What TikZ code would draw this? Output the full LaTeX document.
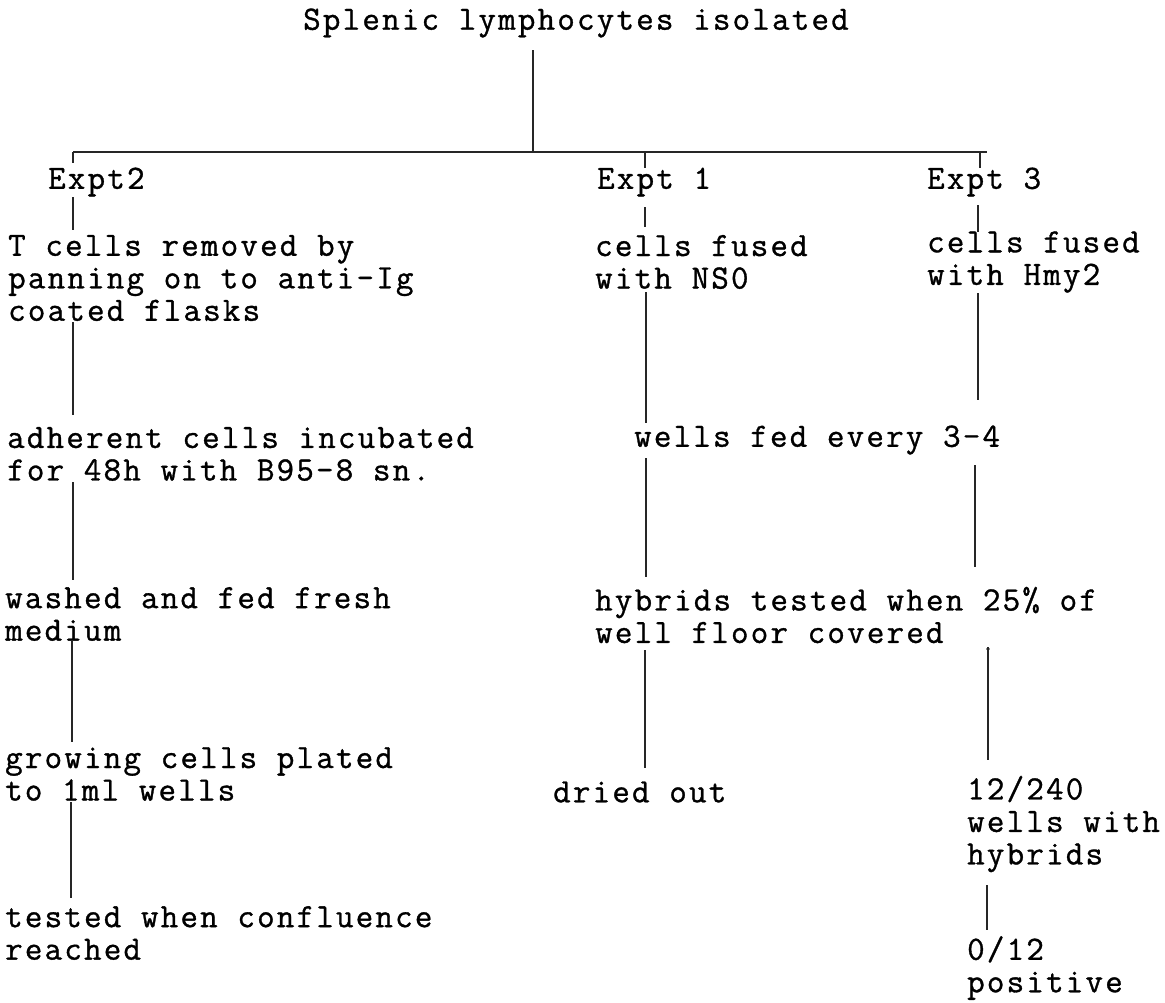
\documentclass[tikz,border=0pt]{standalone}
\usepackage{fontspec}
\newfontfamily\tw{Latin Modern Mono}[LetterSpace=6.5,FakeBold=1]
\begin{document}
\begin{tikzpicture}[x=1pt,y=-1pt,
  txt/.style={inner sep=0pt, anchor=west, align=left, font=\tw\fontsize{34}{32.5}\selectfont},
  link/.style={line width=1.6pt, black!85},
  barline/.style={line width=2.2pt, black!85}]
\useasboundingbox[fill=white] (0,0) rectangle (1165,1002);
% texts
\node[txt] (title) at (303,23) {Splenic lymphocytes isolated};
\node[txt] (e2) at (48,182) {Expt2};
\node[txt] (e1) at (597,182) {Expt 1};
\node[txt] (e3) at (927,182) {Expt 3};
\node[txt] (a1) at (8,278) {T cells removed by\\panning on to anti-Ig\\coated flasks};
\node[txt] (b1) at (595,262) {cells fused\\with NS0};
\node[txt] (c1) at (927,262) {cells fused\\with Hmy2};
\node[txt] (a2) at (7,454) {adherent cells incubated\\for 48h with B95-8 sn.};
\node[txt] (bc2) at (634,440) {wells fed every 3-4};
\node[txt] (a3) at (5,614) {washed and fed fresh\\medium};
\node[txt] (bc3) at (595,615) {hybrids tested when 25\% of\\well floor covered};
\node[txt] (a4) at (5,774) {growing cells plated\\to 1ml wells};
\node[txt] (b4) at (553,792) {dried out};
\node[txt] (c4) at (967,824) {12/240\\wells with\\hybrids};
\node[txt] (a5) at (5,933) {tested when confluence\\reached};
\node[txt] (c5) at (967,968) {0/12\\positive};
% coordinates of line ends
\coordinate (t0) at (533,50);
\coordinate (t1) at (533,152);
\coordinate (barL) at (73,152);
\coordinate (barR) at (987,152);
\coordinate (bB) at (645,152);
\coordinate (bC) at (980,152);
% main stem and bar
\draw[link] (t0) -- (t1);
\draw[barline] (barL) -- (barR);
% column A
\draw[link] (barL) -- (73,163);
\draw[link] (73,197) -- (73,230);
\draw[link] (73,322) -- (73,415);
\draw[link] (73,482) -- (73,580);
\draw[link] (72,640) -- (72,742);
\draw[link] (71,802) -- (71,898);
% column B
\draw[link] (bB) -- (645,168);
\draw[link] (645,207) -- (645,227);
\draw[link] (646,292) -- (646,423);
\draw[link] (646,458) -- (646,577);
\draw[link] (645,650) -- (645,768);
% column C
\draw[link] (bC) -- (980,168);
\draw[link] (978,205) -- (978,232);
\draw[link] (978,293) -- (978,400);
\draw[link] (975,465) -- (975,567);
\draw[link] (988,647) -- (988,760);
\fill[black!85] (988,649) circle (1.8);
\draw[link] (987,885) -- (987,930);
\end{tikzpicture}
\end{document}
